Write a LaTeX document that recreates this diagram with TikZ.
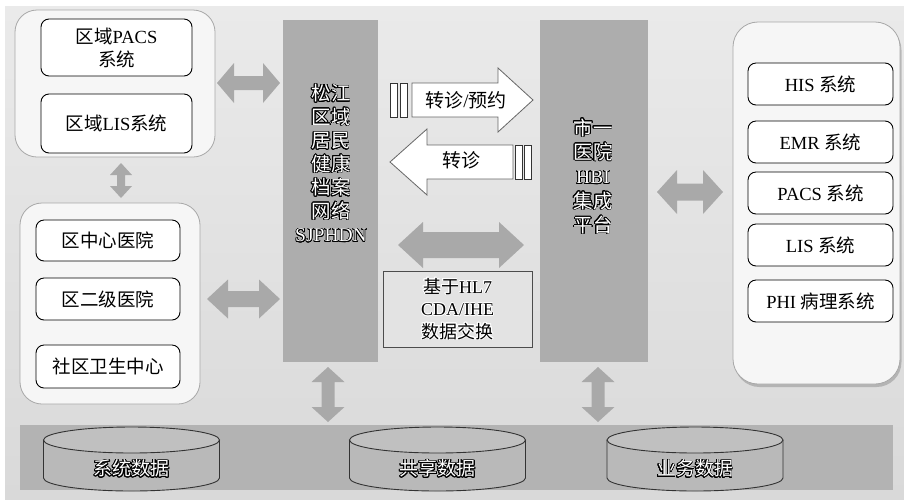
\documentclass[tikz,border=0pt]{standalone}
\usepackage{fontspec}
\setmainfont{Liberation Serif}
\newfontfamily\cjk{Noto Sans CJK SC}
\usepackage[copies]{contour}
\contourlength{0.6pt}
\contournumber{24}
\usetikzlibrary{shadows}
\definecolor{bgtop}{HTML}{EAEAEA}
\definecolor{bgbot}{HTML}{D9D9D9}
\definecolor{grpfill}{HTML}{F6F6F6}
\definecolor{grpline}{HTML}{A8A8A8}
\definecolor{colfill}{HTML}{ADADAD}
\definecolor{arrgray}{HTML}{A9A9A9}
\definecolor{bandfill}{HTML}{B3B3B3}
\definecolor{cylfill}{HTML}{B9B9B9}
\definecolor{hlfill}{HTML}{E3E3E3}
\newcommand\zh[1]{{\cjk #1}}
\newcommand\wl[1]{\contour{black}{#1}}
\newcommand\bl[1]{\contour{white}{#1}}
% horizontal double block arrow: x1 x2 yc H b L
\newcommand\myHarrow[6]{%
  \fill[arrgray] (#1,#3) -- (#1+#6,#3-#4) -- (#1+#6,#3-#5) -- (#2-#6,#3-#5) -- (#2-#6,#3-#4) -- (#2,#3)
   -- (#2-#6,#3+#4) -- (#2-#6,#3+#5) -- (#1+#6,#3+#5) -- (#1+#6,#3+#4) -- cycle;}
% vertical double block arrow: y1 y2 xc H b L
\newcommand\myVarrow[6]{%
  \fill[arrgray] (#3,#1) -- (#3-#4,#1+#6) -- (#3-#5,#1+#6) -- (#3-#5,#2-#6) -- (#3-#4,#2-#6) -- (#3,#2)
   -- (#3+#4,#2-#6) -- (#3+#5,#2-#6) -- (#3+#5,#1+#6) -- (#3+#4,#1+#6) -- cycle;}
% cylinder: cx, name, label
\newcommand\mycyl[3]{%
  \fill[cylfill] (#1-88,440) -- (#1-88,478) arc[start angle=180,end angle=360,x radius=88pt,y radius=13pt] -- (#1+88,440) -- cycle;
  \fill[cylfill!90!white] (#1,440) ellipse [x radius=88pt,y radius=13pt];
  \draw[cylline] (#1-88,440) -- (#1-88,478) arc[start angle=180,end angle=360,x radius=88pt,y radius=13pt] -- (#1+88,440);
  \draw[cylline] (#1,440) ellipse [x radius=88pt,y radius=13pt];
  \node[cyltext] (#2) at (#1,469) {\wl{\zh{#3}}};}
\tikzset{
  grp/.style={draw=grpline, line width=0.8pt, fill=grpfill, rounded corners=22pt, inner sep=0pt},
  ibox/.style={draw=black, line width=0.9pt, fill=white, rounded corners=8pt, inner sep=0pt, align=center,
     font=\fontsize{18.5}{22}\selectfont},
  col/.style={fill=colfill, inner sep=0pt},
  coltext/.style={text=white, align=center, inner sep=0pt},
  cylline/.style={draw=black!80, line width=0.9pt},
  cyltext/.style={text=white, inner sep=0pt, font=\fontsize{19}{22}\selectfont},
  sarrow/.style={fill=white, draw=black!60, line width=0.8pt},
  bar/.style={fill=white, draw=black!80, line width=0.8pt},
}
\begin{document}
\begin{tikzpicture}[x=1pt,y=-1pt]
\useasboundingbox (0,0) rectangle (904,499);
\fill[white] (0,0) rectangle (904,499);
\shade[top color=bgtop, bottom color=bgbot] (5,6) rectangle (904,499);

% left top group
\node[grp, minimum width=200pt, minimum height=147pt] (g1) at (115,83.5) {};
\node[ibox, minimum width=151pt, minimum height=57pt] (pacs) at (116.5,47.5) {\zh{区域}PACS\\[1pt]\zh{系统}};
\node[ibox, minimum width=151pt, minimum height=59pt] (lisr) at (116.5,123.5) {\zh{区域}LIS\zh{系统}};

% left bottom group
\node[grp, minimum width=180pt, minimum height=201pt] (g2) at (110,303.5) {};
\node[ibox, minimum width=144pt, minimum height=41pt] (h1) at (108,240.5) {\zh{区中心医院}};
\node[ibox, minimum width=144pt, minimum height=42pt] (h2) at (108,299) {\zh{区二级医院}};
\node[ibox, minimum width=144pt, minimum height=43pt] (h3) at (108,366.5) {\zh{社区卫生中心}};

% right group
\node[grp, rounded corners=25pt, minimum width=167pt, minimum height=362pt,
  drop shadow={shadow xshift=1.5pt, shadow yshift=-3pt, fill=black!45}] (g3) at (816.5,203) {};
\node[ibox, minimum width=145pt, minimum height=42pt] (his) at (820.5,84) {HIS \zh{系统}};
\node[ibox, minimum width=145pt, minimum height=42pt] (emr) at (820.5,142) {EMR \zh{系统}};
\node[ibox, minimum width=145pt, minimum height=42pt] (pacsh) at (820.5,193) {PACS \zh{系统}};
\node[ibox, minimum width=145pt, minimum height=42pt] (lish) at (820.5,245) {LIS \zh{系统}};
\node[ibox, minimum width=145pt, minimum height=42pt] (phi) at (820.5,301) {PHI \zh{病理系统}};

% columns
\node[col, minimum width=95pt, minimum height=342pt] (sj) at (330.5,191) {};
\node[coltext, font=\fontsize{19.5}{23.5}\selectfont] (sjt) at (331,163.5)
  {\wl{\zh{松江}}\\\wl{\zh{区域}}\\\wl{\zh{居民}}\\\wl{\zh{健康}}\\\wl{\zh{档案}}\\\wl{\zh{网络}}\\\wl{SJPHDN}};
\node[col, minimum width=108pt, minimum height=342pt] (hbi) at (594,191) {};
\node[coltext, font=\fontsize{19.5}{24.3}\selectfont] (hbit) at (593,176.5)
  {\wl{\zh{市一}}\\\wl{\zh{医院}}\\\wl{HBI}\\\wl{\zh{集成}}\\\wl{\zh{平台}}};

% block arrows
\myHarrow{217}{280}{83}{20}{7}{17}
\myVarrow{163}{198}{121}{11}{4}{12}
\myHarrow{207}{280}{299}{19.5}{8}{21}
\myHarrow{657}{723}{192}{22}{8.5}{20}
\myHarrow{398}{524}{245}{23}{13}{25}
\myVarrow{367}{422}{328}{16.5}{6.5}{15}
\myVarrow{367}{422}{598}{16.5}{6.5}{15}

% single arrows
\draw[sarrow] (412,83) -- (498,83) -- (498,68) -- (533,100) -- (498,132) -- (498,117) -- (412,117) -- cycle;
\draw[bar] (390,83) rectangle (397,117);
\draw[bar] (400,83) rectangle (407,117);
\node[inner sep=0pt, font=\fontsize{19}{22}\selectfont] (zzyy) at (466,100) {\zh{转诊}/\zh{预约}};
\draw[sarrow] (390,162) -- (427,129) -- (427,145) -- (513,145) -- (513,179) -- (427,179) -- (427,195) -- cycle;
\draw[bar] (515,145) rectangle (522,179);
\draw[bar] (524,145) rectangle (531,179);
\node[inner sep=0pt, font=\fontsize{19}{22}\selectfont] (zz) at (461,160) {\zh{转诊}};

% HL7 box
\node[draw=black!70, line width=0.7pt, fill=hlfill, minimum width=149pt, minimum height=76pt,
  inner sep=0pt, align=center, font=\fontsize{18}{22.5}\selectfont] (hl7) at (457.5,309)
  {\bl{\zh{基于}HL7}\\\bl{CDA/IHE}\\\bl{\zh{数据交换}}};

% bottom band with cylinders
\fill[bandfill] (20,425) rectangle (893,490);
\mycyl{131.5}{db1}{系统数据}
\mycyl{437.5}{db2}{共享数据}
\mycyl{695}{db3}{业务数据}
\end{tikzpicture}
\end{document}
